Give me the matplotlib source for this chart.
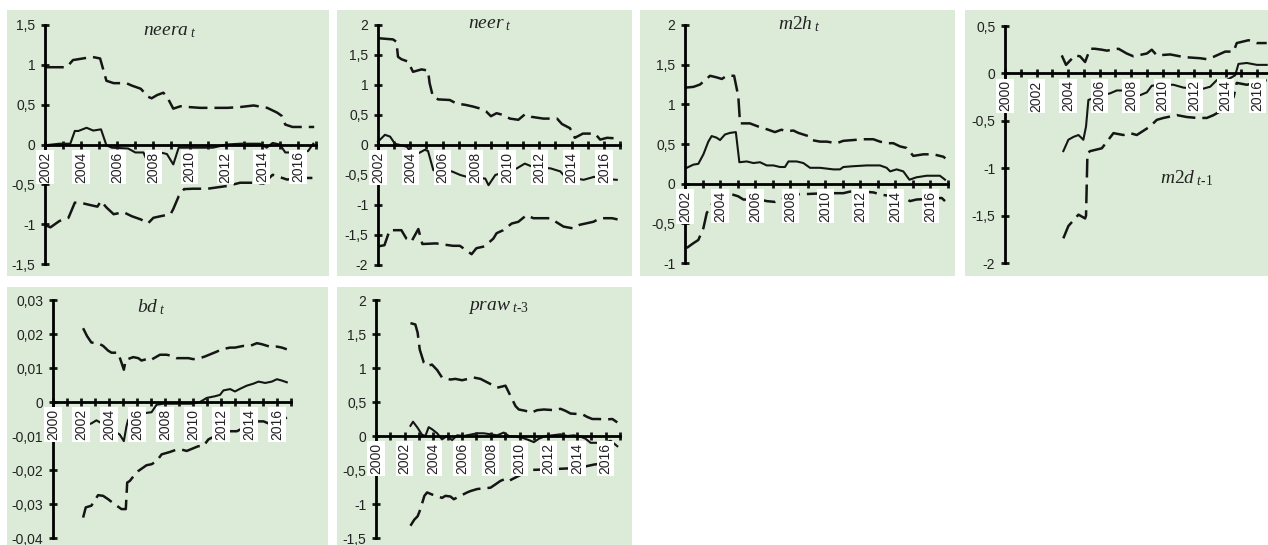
import numpy as np
import matplotlib
matplotlib.use('Agg')
import matplotlib.pyplot as plt
from matplotlib.patches import Rectangle
from matplotlib.ticker import FuncFormatter

plt.rcParams['font.family'] = ['Liberation Sans', 'DejaVu Sans']
plt.rcParams['mathtext.fontset'] = 'custom'
plt.rcParams['mathtext.it'] = 'Liberation Serif:italic'
plt.rcParams['mathtext.rm'] = 'Liberation Serif'

# ---- neera_t ----
neera_x_hi = [2002.0, 2003.2, 2003.55, 2004.1, 2004.6, 2005.05, 2005.4, 2005.8, 2006.5, 2006.8, 2007.3,
              2007.7, 2007.9, 2008.2, 2008.55, 2008.75, 2009.1, 2009.5, 2009.95, 2010.6, 2012.1, 2012.8,
              2013.55, 2014.3, 2014.85, 2015.1, 2015.3, 2015.7, 2016.9]
neera_hi = [0.97, 0.97, 1.06, 1.08, 1.1, 1.08, 0.8, 0.77, 0.77, 0.74, 0.7,
            0.6, 0.58, 0.62, 0.65, 0.6, 0.45, 0.48, 0.47, 0.46, 0.46, 0.47,
            0.49, 0.46, 0.4, 0.36, 0.25, 0.22, 0.22]
neera_x_mid = [2002.0, 2002.8, 2003.4, 2003.65, 2003.85, 2004.3, 2004.67, 2005.1, 2005.4, 2005.7, 2006.6,
               2007.0, 2007.45, 2007.6, 2007.9, 2008.4, 2008.75, 2009.1, 2009.4, 2010.0, 2011.3, 2012.05,
               2012.8, 2013.9, 2014.27, 2014.6, 2015.0, 2015.3, 2016.3, 2016.57, 2016.85]
neera_mid = [-0.01, 0.01, 0.01, 0.17, 0.17, 0.21, 0.175, 0.19, -0.01, -0.04, -0.05,
             -0.1, -0.1, -0.18, -0.12, -0.1, -0.12, -0.25, -0.04, -0.04, -0.04, 0.0,
             0.01, 0.01, -0.04, 0.02, 0.0, -0.1, -0.1, -0.08, 0.01]
neera_x_lo = [2002.0, 2002.3, 2002.8, 2003.3, 2003.65, 2003.95, 2004.5, 2004.9, 2005.1, 2005.4, 2005.8,
              2006.35, 2006.8, 2007.3, 2007.7, 2008.0, 2008.4, 2008.95, 2009.1, 2009.4, 2009.7, 2010.2,
              2011.0, 2012.1, 2012.8, 2013.55, 2014.1, 2014.6, 2015.4, 2016.0, 2016.8]
neera_lo = [-1.01, -1.04, -0.96, -0.92, -0.73, -0.73, -0.76, -0.78, -0.71, -0.79, -0.875,
            -0.85, -0.9, -0.94, -0.99, -0.92, -0.9, -0.875, -0.81, -0.65, -0.56, -0.555,
            -0.555, -0.52, -0.48, -0.48, -0.49, -0.38, -0.44, -0.42, -0.42]

# ---- neer_t ----
neer_x_hi = [2002.0, 2002.93, 2003.14, 2003.24, 2003.45, 2003.86, 2004.17, 2004.7, 2005.1, 2005.2, 2005.4,
             2005.73, 2006.45, 2006.87, 2007.4, 2007.9, 2008.3, 2008.7, 2009.0, 2009.35, 2009.76, 2010.18,
             2010.7, 2011.1, 2011.5, 2012.25, 2013.1, 2013.4, 2013.9, 2014.2, 2014.7, 2015.45, 2015.77,
             2016.2, 2016.8]
neer_hi = [1.78, 1.76, 1.72, 1.47, 1.43, 1.39, 1.22, 1.26, 1.24, 1.03, 0.81,
           0.76, 0.75, 0.69, 0.67, 0.64, 0.61, 0.56, 0.48, 0.53, 0.5, 0.44,
           0.42, 0.51, 0.47, 0.44, 0.44, 0.35, 0.28, 0.12, 0.19, 0.19, 0.09,
           0.12, 0.11]
neer_x_mid = [2002.0, 2002.43, 2002.75, 2003.05, 2003.37, 2003.8, 2004.0, 2004.5, 2004.9, 2005.1, 2005.43,
              2006.58, 2007.1, 2007.5, 2008.65, 2008.85, 2009.27, 2010.6, 2011.1, 2011.55, 2012.7, 2013.3,
              2013.6, 2014.75, 2015.4, 2015.7, 2016.8]
neer_mid = [0.055, 0.17, 0.14, 0.02, 0.0, -0.03, -0.11, -0.14, -0.08, -0.1, -0.42,
            -0.44, -0.5, -0.53, -0.56, -0.67, -0.5, -0.39, -0.31, -0.36, -0.39, -0.44,
            -0.53, -0.58, -0.53, -0.56, -0.58]
neer_x_lo = [2002.0, 2002.4, 2002.72, 2003.45, 2003.76, 2004.07, 2004.5, 2004.75, 2005.6, 2006.1, 2006.65,
             2007.07, 2007.5, 2007.8, 2008.1, 2008.6, 2009.15, 2009.35, 2009.76, 2010.28, 2010.7, 2011.2,
             2011.63, 2012.66, 2013.5, 2014.1, 2014.5, 2015.35, 2015.77, 2016.5, 2016.85]
neer_lo = [-1.69, -1.67, -1.42, -1.42, -1.56, -1.61, -1.4, -1.65, -1.64, -1.66, -1.68,
           -1.68, -1.76, -1.82, -1.72, -1.69, -1.56, -1.47, -1.42, -1.31, -1.28, -1.17,
           -1.22, -1.22, -1.36, -1.39, -1.33, -1.28, -1.22, -1.22, -1.24]

# ---- m2h_t ----
m2h_x_hi = [2002.0, 2002.48, 2002.86, 2003.43, 2003.8, 2004.1, 2004.38, 2004.8, 2005.04, 2005.14, 2005.7,
            2006.18, 2006.75, 2007.13, 2007.5, 2007.8, 2008.18, 2008.46, 2009.03, 2009.22, 2009.7, 2010.08,
            2010.65, 2011.03, 2011.6, 2012.17, 2012.74, 2013.12, 2013.5, 2013.88, 2014.26, 2014.64, 2015.02,
            2015.6, 2016.16, 2016.73, 2016.85]
m2h_hi = [1.21, 1.22, 1.25, 1.36, 1.34, 1.32, 1.36, 1.36, 1.1, 0.76, 0.76,
          0.72, 0.68, 0.65, 0.68, 0.66, 0.67, 0.64, 0.6, 0.55, 0.53, 0.53,
          0.51, 0.54, 0.55, 0.56, 0.56, 0.53, 0.51, 0.51, 0.47, 0.45, 0.35,
          0.37, 0.37, 0.34, 0.32]
m2h_x_mid = [2002.1, 2002.48, 2002.76, 2003.05, 2003.33, 2003.52, 2003.8, 2004.0, 2004.28, 2004.57, 2004.9,
             2005.1, 2005.52, 2005.9, 2006.28, 2006.66, 2007.04, 2007.42, 2007.7, 2007.9, 2008.37, 2008.75,
             2009.13, 2009.7, 2010.46, 2010.84, 2011.03, 2011.6, 2012.36, 2013.12, 2013.5, 2013.7, 2014.07,
             2014.45, 2014.8, 2015.2, 2015.78, 2016.54, 2016.83]
m2h_mid = [0.2, 0.24, 0.25, 0.37, 0.53, 0.6, 0.58, 0.55, 0.62, 0.64, 0.65,
           0.27, 0.28, 0.26, 0.27, 0.23, 0.23, 0.21, 0.21, 0.28, 0.28, 0.26,
           0.2, 0.2, 0.18, 0.18, 0.21, 0.22, 0.23, 0.23, 0.2, 0.155, 0.18,
           0.155, 0.05, 0.08, 0.1, 0.1, 0.05]
m2h_x_lo = [2002.1, 2002.48, 2002.76, 2003.05, 2003.24, 2003.7, 2004.28, 2004.47, 2005.04, 2005.33, 2005.8,
            2006.28, 2006.66, 2007.13, 2007.5, 2008.0, 2008.56, 2009.03, 2010.0, 2011.03, 2011.41, 2012.1,
            2012.74, 2013.22, 2013.9, 2014.55, 2014.83, 2015.2, 2016.0, 2016.64, 2016.83]
m2h_lo = [-0.81, -0.75, -0.71, -0.56, -0.37, -0.2, -0.14, -0.12, -0.16, -0.2, -0.2,
          -0.2, -0.22, -0.23, -0.2, -0.16, -0.13, -0.13, -0.12, -0.12, -0.1, -0.1,
          -0.11, -0.14, -0.16, -0.18, -0.22, -0.2, -0.19, -0.18, -0.22]

# ---- m2d_t-1 ----
m2d_x_hi = [2003.6, 2003.87, 2004.44, 2004.76, 2005.08, 2005.4, 2005.7, 2006.14, 2006.46, 2007.2, 2007.72,
            2008.15, 2009.0, 2009.31, 2009.63, 2010.48, 2011.11, 2011.53, 2012.38, 2012.8, 2013.23, 2013.97,
            2014.5, 2014.7, 2015.45, 2015.98, 2016.6]
m2d_hi = [0.19, 0.09, 0.19, 0.18, 0.12, 0.26, 0.26, 0.25, 0.24, 0.26, 0.21,
          0.18, 0.21, 0.25, 0.19, 0.2, 0.18, 0.17, 0.16, 0.15, 0.175, 0.23,
          0.23, 0.32, 0.35, 0.32, 0.32]
m2d_x_mid = [2003.7, 2004.02, 2004.34, 2004.66, 2004.97, 2005.14, 2005.29, 2006.0, 2006.67, 2007.09, 2007.4,
             2008.0, 2008.57, 2009.0, 2009.31, 2010.0, 2010.69, 2011.32, 2012.0, 2012.6, 2013.02, 2013.44,
             2014.07, 2014.6, 2014.81, 2015.34, 2015.98, 2016.6]
m2d_mid = [-0.82, -0.7, -0.67, -0.65, -0.7, -0.56, -0.28, -0.24, -0.21, -0.18, -0.18,
           -0.2, -0.23, -0.2, -0.13, -0.12, -0.12, -0.15, -0.16, -0.16, -0.14, -0.07,
           -0.07, -0.02, 0.1, 0.11, 0.09, 0.09]
m2d_x_lo = [2003.7, 2004.02, 2004.66, 2005.08, 2005.14, 2005.23, 2005.4, 2006.14, 2006.56, 2006.88, 2007.51,
            2007.94, 2008.36, 2009.2, 2009.63, 2010.05, 2010.9, 2011.53, 2012.17, 2012.8, 2013.23, 2013.65,
            2014.5, 2014.7, 2015.34, 2016.6]
m2d_lo = [-1.74, -1.61, -1.49, -1.53, -1.5, -0.84, -0.82, -0.79, -0.7, -0.63, -0.65,
          -0.63, -0.65, -0.56, -0.49, -0.47, -0.44, -0.46, -0.47, -0.47, -0.44, -0.4,
          -0.25, -0.1, -0.12, -0.07]

# ---- bd_t ----
bd_x_hi = [2002.15, 2002.43, 2002.74, 2003.22, 2003.58, 2003.94, 2004.18, 2004.65, 2004.89, 2005.06, 2005.2,
           2005.73, 2006.09, 2006.32, 2006.68, 2006.92, 2007.64, 2008.11, 2008.47, 2008.83, 2009.67, 2010.02,
           2010.5, 2010.86, 2011.69, 2012.05, 2012.65, 2013.0, 2013.6, 2014.08, 2014.56, 2014.92, 2015.63,
           2015.99, 2016.35, 2016.7]
bd_hi = [0.0217, 0.0194, 0.0175, 0.0173, 0.0165, 0.0151, 0.0145, 0.0145, 0.0116, 0.0095, 0.0124,
         0.0132, 0.0129, 0.0122, 0.0126, 0.0122, 0.0139, 0.0139, 0.0136, 0.0129, 0.0129, 0.0126,
         0.0129, 0.0134, 0.0148, 0.0155, 0.016, 0.016, 0.0165, 0.0165, 0.0173, 0.017, 0.0161,
         0.0163, 0.016, 0.0155]
bd_x_mid = [2002.15, 2002.74, 2003.1, 2004.0, 2004.77, 2005.06, 2005.25, 2005.37, 2006.0, 2006.68, 2007.04,
            2007.4, 2007.88, 2009.07, 2009.9, 2010.5, 2010.98, 2011.58, 2011.93, 2012.17, 2012.65, 2013.0,
            2013.37, 2013.84, 2014.32, 2014.68, 2015.16, 2015.63, 2015.99, 2016.35, 2016.7]
bd_mid = [-0.0071, -0.0063, -0.0054, -0.0075, -0.0096, -0.0115, -0.0071, -0.0052, -0.004, -0.0032, -0.003,
          -0.0008, -0.0005, -0.0005, -0.0005, 0.0, 0.0012, 0.0017, 0.0021, 0.0034, 0.0038, 0.0031,
          0.0039, 0.0048, 0.0054, 0.006, 0.0056, 0.006, 0.0067, 0.0063, 0.0058]
bd_x_lo = [2002.15, 2002.34, 2002.74, 2003.22, 2003.58, 2003.94, 2004.25, 2004.89, 2005.2, 2005.3, 2005.49,
           2005.85, 2006.09, 2006.68, 2007.04, 2007.4, 2007.76, 2008.35, 2008.83, 2009.19, 2009.55, 2010.38,
           2010.74, 2011.1, 2011.34, 2012.0, 2012.65, 2013.13, 2013.37, 2014.0, 2014.56, 2015.04, 2015.39,
           2016.0, 2016.47, 2016.7]
bd_lo = [-0.034, -0.031, -0.0305, -0.0274, -0.0276, -0.0286, -0.0296, -0.0315, -0.0315, -0.0237, -0.0232,
         -0.0213, -0.0203, -0.0186, -0.0183, -0.0174, -0.0154, -0.0147, -0.014, -0.014, -0.0144, -0.013,
         -0.013, -0.011, -0.0105, -0.0095, -0.0086, -0.0086, -0.0081, -0.007, -0.0057, -0.0057, -0.0063,
         -0.0058, -0.0052, -0.0045]

# ---- praw_t-3 ----
praw_x_hi = [2002.4, 2002.74, 2002.9, 2003.05, 2003.33, 2003.56, 2003.9, 2004.26, 2004.6, 2005.19, 2005.53,
             2006.0, 2006.81, 2007.28, 2007.74, 2008.2, 2008.44, 2009.02, 2009.37, 2009.72, 2009.95, 2010.42,
             2010.77, 2011.23, 2011.7, 2012.4, 2012.86, 2013.2, 2013.56, 2014.37, 2014.72, 2015.07, 2015.42,
             2016.12, 2016.47, 2016.81]
praw_hi = [1.66, 1.64, 1.52, 1.27, 1.08, 1.03, 1.05, 0.97, 0.86, 0.83, 0.84,
           0.82, 0.86, 0.84, 0.79, 0.74, 0.71, 0.74, 0.59, 0.44, 0.39, 0.37,
           0.34, 0.38, 0.39, 0.38, 0.4, 0.37, 0.33, 0.32, 0.28, 0.25, 0.25,
           0.245, 0.25, 0.2]
praw_x_mid = [2002.4, 2002.58, 2002.9, 2003.2, 2003.44, 2003.67, 2003.9, 2004.26, 2004.6, 2004.95, 2005.3,
              2005.65, 2006.12, 2006.58, 2007.05, 2007.5, 2007.98, 2008.44, 2008.9, 2009.26, 2009.72, 2010.19,
              2010.65, 2011.0, 2011.35, 2011.81, 2012.28, 2012.86, 2013.33, 2013.79, 2014.26, 2014.6, 2014.95,
              2015.42, 2015.88, 2016.35, 2016.81]
praw_mid = [0.15, 0.21, 0.12, 0.02, 0.0, 0.13, 0.1, 0.04, -0.05, 0.0, -0.06,
            0.01, 0.0, 0.02, 0.04, 0.04, 0.025, 0.01, 0.05, 0.0, -0.01, -0.025,
            -0.06, -0.09, -0.04, 0.0, 0.01, 0.025, 0.0, 0.01, -0.01, -0.04, -0.1,
            -0.1, -0.1, -0.07, -0.15]
praw_x_lo = [2002.4, 2002.67, 2002.9, 2003.09, 2003.37, 2003.56, 2003.9, 2004.6, 2004.84, 2005.19, 2005.42,
             2005.88, 2006.35, 2006.58, 2007.05, 2007.5, 2007.98, 2008.33, 2008.67, 2009.02, 2009.26, 2010.0,
             2010.72, 2012.0, 2014.1, 2015.19, 2016.35]
praw_lo = [-1.32, -1.23, -1.18, -1.08, -0.88, -0.83, -0.86, -0.91, -0.88, -0.89, -0.93,
           -0.88, -0.83, -0.81, -0.78, -0.77, -0.76, -0.71, -0.66, -0.63, -0.66, -0.58,
           -0.5, -0.49, -0.47, -0.42, -0.39]

W, H = 1268, 545
fig = plt.figure(figsize=(W / 100, H / 100), dpi=100)
green = '#dcebd7'
ink = '#151515'


def ylab(v, pos):
    return ('%g' % round(v, 4)).replace('.', ',')


def panel(bg, box, x0, ylo, yhi, ystep, title, tx, ty, hi, mid, lo):
    fig.add_artist(Rectangle((bg[0] / W, 1 - bg[3] / H), (bg[2] - bg[0]) / W, (bg[3] - bg[1]) / H,
                             transform=fig.transFigure, facecolor=green, edgecolor='none', zorder=-1))
    l, t, r, b = box
    ax = fig.add_axes([l / W, 1 - b / H, (r - l) / W, (b - t) / H])
    ax.set_facecolor('none')
    for xs, ys in (hi, lo):
        ax.plot(xs, ys, color=ink, lw=1.8, dashes=(7.5, 2.8), dash_capstyle='butt', clip_on=False)
    ax.plot(mid[0], mid[1], color=ink, lw=1.5, clip_on=False)
    ax.set_xlim(x0, 2017)
    ax.set_ylim(ylo, yhi)
    ax.spines['bottom'].set_position(('data', 0))
    ax.spines[['top', 'right']].set_visible(False)
    ax.spines[['left', 'bottom']].set_linewidth(2)
    ax.set_xticks(range(x0, 2018))
    ax.set_yticks(np.round(np.arange(ylo, yhi + ystep / 2, ystep), 4))
    ax.yaxis.set_major_formatter(FuncFormatter(ylab))
    ax.tick_params(direction='inout', length=6, width=2, labelsize=10, pad=2, colors=ink)
    ax.tick_params(axis='y', labelcolor='#222222', pad=4)
    ax.tick_params(axis='x', labelbottom=False)
    for yr in range(x0, 2017, 2):
        ax.annotate(str(yr), (yr, 0), xytext=(0, -5), textcoords='offset points', rotation=90,
                    ha='center', va='top', fontsize=10, color='#222222', zorder=6, annotation_clip=False,
                    bbox=dict(boxstyle='square,pad=0.12', fc='white', ec='none'))
    ax.text(tx, ty, title, fontsize=14, color='#222222', ha='left', va='baseline')
    return ax


panel((7, 10, 329, 276), (45, 25, 316, 264), 2002, -1.5, 1.5, 0.5,
      r'$neera_{\ t}$', 2007.42, 1.375,
      (neera_x_hi, neera_hi), (neera_x_mid, neera_mid), (neera_x_lo, neera_lo))
panel((337, 10, 632, 276), (378, 25, 620, 265), 2002, -2, 2, 0.5,
      r'$neer_{\ t}$', 2007.58, 1.95,
      (neer_x_hi, neer_hi), (neer_x_mid, neer_mid), (neer_x_lo, neer_lo))
panel((640, 10, 955, 276), (685, 25, 948, 263), 2002, -1, 2, 0.5,
      r'$\mathit{m2h}_{\ t}$', 2007.3, 1.94,
      (m2h_x_hi, m2h_hi), (m2h_x_mid, m2h_mid), (m2h_x_lo, m2h_lo))
panel((965, 10, 1268, 276), (1005, 26, 1273, 263), 2000, -2, 0.5, 0.5,
      r'$\mathit{m2d}_{\ t\text{-}1}$', 2009.84, -1.155,
      (m2d_x_hi, m2d_hi), (m2d_x_mid, m2d_mid), (m2d_x_lo, m2d_lo))
panel((7, 287, 328, 545), (53, 300, 291, 538), 2000, -0.04, 0.03, 0.01,
      r'$bd_{\ t}$', 2006.0, 0.0264,
      (bd_x_hi, bd_hi), (bd_x_mid, bd_mid), (bd_x_lo, bd_lo))
panel((337, 287, 632, 545), (376, 300, 620, 538), 2000, -1.5, 2, 0.5,
      r'$praw_{\ t\text{-}3}$', 2006.4, 1.85,
      (praw_x_hi, praw_hi), (praw_x_mid, praw_mid), (praw_x_lo, praw_lo))

fig.savefig('out.png', dpi=100)
